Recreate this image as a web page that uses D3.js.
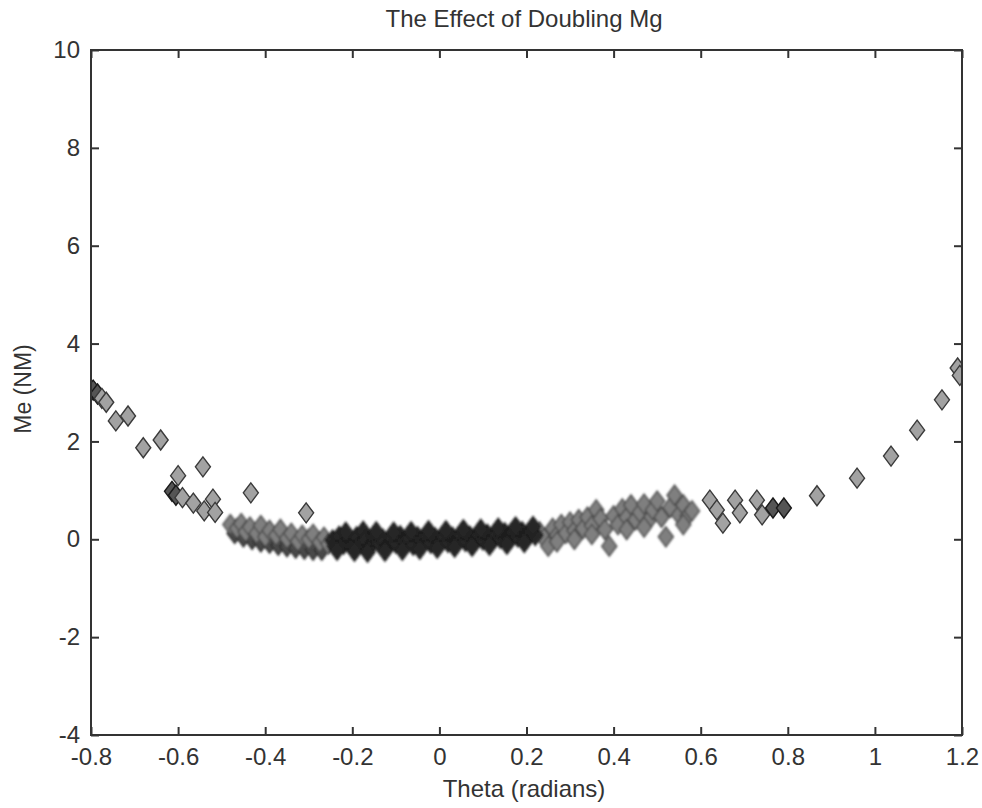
<!DOCTYPE html>
<html>
<head>
<meta charset="utf-8">
<script src="https://cdn.jsdelivr.net/npm/d3@7"></script>
<style>
  body { margin: 0; background: #fff; }
  svg { display: block; }
  text { font-family: "Liberation Sans", Arial, sans-serif; fill: #333; }
</style>
</head>
<body>
<svg></svg>
<script>
// isolated diamonds (theta, Me)
var outerTheta = [-0.795, -0.785, -0.775, -0.765, -0.743, -0.715, -0.680, -0.640, -0.600, -0.543,
  -0.614, -0.605, -0.590, -0.565, -0.540, -0.520, -0.515, -0.433, -0.306,
  0.621, 0.637, 0.651, 0.679, 0.690, 0.729, 0.741, 0.766, 0.791, 0.867, 0.959, 1.037, 1.097, 1.154, 1.190, 1.195];
var outerMe = [3.05, 2.97, 2.88, 2.80, 2.42, 2.52, 1.87, 2.03, 1.30, 1.48,
  0.98, 0.90, 0.85, 0.74, 0.58, 0.82, 0.55, 0.95, 0.54,
  0.80, 0.60, 0.33, 0.80, 0.54, 0.80, 0.50, 0.64, 0.64, 0.89, 1.25, 1.70, 2.23, 2.85, 3.50, 3.35];
var outerDark = [1, 1, 0, 0, 0, 0, 0, 0, 0, 0,
  1, 1, 0, 0, 0, 0, 0, 0, 0,
  0, 0, 0, 0, 0, 0, 0, 1, 1, 0, 0, 0, 0, 0, 0, 0];

// gray band either side of the core
var bandTheta = [-0.480, -0.465, -0.455, -0.445, -0.435, -0.420, -0.410, -0.400, -0.390, -0.375,
  -0.365, -0.350, -0.340, -0.325, -0.315, -0.300, -0.290, -0.275, -0.265, -0.255,
  0.23, 0.24, 0.25, 0.26, 0.27, 0.28, 0.29, 0.30, 0.31, 0.32, 0.33, 0.34, 0.35, 0.36, 0.37, 0.38,
  0.39, 0.40, 0.41, 0.42, 0.43, 0.44, 0.45, 0.46, 0.47, 0.48, 0.49, 0.50, 0.51, 0.52, 0.53, 0.54,
  0.55, 0.56, 0.57, 0.58,
  0.27, 0.31, 0.35, 0.43, 0.47, 0.56];
var bandMe = [0.30, 0.22, 0.32, 0.15, 0.25, 0.12, 0.28, 0.05, 0.18, 0.08,
  0.20, 0.02, 0.12, -0.04, 0.08, 0.00, 0.10, -0.06, 0.04, -0.10,
  0.15, 0.02, -0.14, 0.22, 0.08, 0.30, 0.12, 0.35, 0.18, 0.40, 0.22, 0.45, 0.28, 0.60, 0.42, 0.20,
  -0.14, 0.48, 0.30, 0.62, 0.45, 0.70, 0.40, 0.55, 0.72, 0.38, 0.60, 0.78, 0.45, 0.05, 0.65, 0.90,
  0.50, 0.70, 0.48, 0.58,
  -0.05, 0.00, 0.10, 0.20, 0.25, 0.30];

// darker lower edge of the left band
var shadeTheta = [-0.470, -0.450, -0.430, -0.410, -0.390, -0.370, -0.350, -0.330, -0.310, -0.290, -0.270];
var shadeMe = [0.12, 0.05, 0.00, -0.05, -0.08, -0.12, -0.15, -0.18, -0.20, -0.22, -0.22];

// dense dark core around zero
var coreTheta = [-0.245, -0.240, -0.230, -0.220, -0.210, -0.200, -0.190, -0.180, -0.175, -0.170, -0.160,
  -0.150, -0.140, -0.130, -0.120, -0.110, -0.100, -0.090, -0.080, -0.070, -0.060, -0.050, -0.040,
  -0.030, -0.020, -0.010, 0.000, 0.010, 0.020, 0.030, 0.040, 0.050, 0.060, 0.070, 0.080, 0.090,
  0.100, 0.110, 0.120, 0.130, 0.140, 0.150, 0.160, 0.170, 0.180, 0.190, 0.200, 0.210, 0.220,
  -0.235, -0.215, -0.195, -0.165, -0.145, -0.125, -0.105, -0.085, -0.065, -0.045, -0.025, -0.005,
  0.015, 0.035, 0.055, 0.075, 0.095, 0.115, 0.135, 0.155, 0.175, 0.195, 0.215];
var coreMe = [-0.02, -0.14, 0.06, -0.10, 0.02, -0.16, 0.05, -0.08, 0.16, -0.02, -0.15,
  0.06, -0.06, 0.00, -0.14, 0.04, -0.08, 0.07, -0.05, 0.02, -0.12, 0.05, -0.04,
  0.08, -0.08, 0.03, -0.05, 0.06, -0.06, 0.04, -0.03, 0.08, -0.04, 0.06, -0.02, 0.09,
  -0.01, 0.10, 0.00, 0.11, 0.02, 0.13, 0.04, 0.14, 0.05, 0.15, 0.06, 0.16, 0.08,
  -0.22, 0.14, -0.24, -0.26, 0.15, -0.24, 0.14, -0.22, 0.15, -0.20, 0.17, -0.18,
  0.17, -0.16, 0.19, -0.14, 0.20, -0.12, 0.22, -0.10, 0.25, -0.06, 0.26];

var xTicks = [-0.8, -0.6, -0.4, -0.2, 0, 0.2, 0.4, 0.6, 0.8, 1, 1.2];
var yTicks = [-4, -2, 0, 2, 4, 6, 8, 10];

var width = 982, height = 808;
var margin = {top: 50, right: 20, bottom: 73, left: 91};
var svg = d3.select("svg").attr("width", width).attr("height", height);

var x = d3.scaleLinear().domain([-0.8, 1.2]).range([margin.left, width - margin.right]);
var y = d3.scaleLinear().domain([-4, 10]).range([height - margin.bottom, margin.top]);

var defs = svg.append("defs");
defs.append("filter").attr("id", "soft")
  .append("feGaussianBlur").attr("stdDeviation", 1.1);
defs.append("clipPath").attr("id", "clip")
  .append("rect")
  .attr("x", margin.left).attr("y", margin.top)
  .attr("width", x.range()[1] - margin.left)
  .attr("height", y.range()[0] - margin.top);

var diamond = "M0,-10L7.5,0L0,10L-7.5,0Z";

function pts(xs, ys) {
  return xs.map(function (t, i) { return {t: t, m: ys[i], i: i}; });
}

var plot = svg.append("g").attr("clip-path", "url(#clip)");

function layer(xs, ys, fill, stroke, soft) {
  var g = plot.append("g");
  if (soft) g.attr("filter", "url(#soft)");
  g.selectAll("path").data(pts(xs, ys)).enter()
    .append("path")
    .attr("d", diamond)
    .attr("transform", function (d) { return "translate(" + x(d.t) + "," + y(d.m) + ")"; })
    .attr("fill", fill)
    .attr("stroke", stroke)
    .attr("stroke-width", 1.4);
  return g;
}

layer(shadeTheta, shadeMe, "#4a4a4a", "#2a2a2a", true);
layer(bandTheta, bandMe, "#7f7f7f", "#4a4a4a", true);
layer(coreTheta, coreMe, "#262626", "#1e1e1e", true);

layer(outerTheta, outerMe, "#a2a2a2", "#3a3a3a", false)
  .selectAll("path")
  .attr("fill", function (d) { return outerDark[d.i] ? "#555" : "#a2a2a2"; })
  .attr("stroke", function (d) { return outerDark[d.i] ? "#1a1a1a" : "#3a3a3a"; });

// axes: inward ticks on all four sides
var x0 = margin.left, x1 = x.range()[1], y0 = y.range()[0], y1 = margin.top;

var xb = svg.append("g").attr("transform", "translate(0," + y0 + ")")
  .call(d3.axisBottom(x).tickValues(xTicks).tickSize(-8).tickPadding(13)
    .tickFormat(function (d) { return String(d); }));
var xt = svg.append("g").attr("transform", "translate(0," + y1 + ")")
  .call(d3.axisTop(x).tickValues(xTicks).tickSize(-8).tickFormat(""));
var yl = svg.append("g").attr("transform", "translate(" + x0 + ",0)")
  .call(d3.axisLeft(y).tickValues(yTicks).tickSize(-8).tickPadding(11)
    .tickFormat(function (d) { return String(d); }));
var yr = svg.append("g").attr("transform", "translate(" + x1 + ",0)")
  .call(d3.axisRight(y).tickValues(yTicks).tickSize(-8).tickFormat(""));

[xb, xt, yl, yr].forEach(function (g) {
  g.select(".domain").remove();
  g.selectAll(".tick line").attr("stroke", "#333").attr("stroke-width", 2);
  g.selectAll(".tick text").attr("font-size", "24px").attr("fill", "#333")
    .style("font-family", "'Liberation Sans', Arial, sans-serif");
});

svg.append("rect")
  .attr("x", x0).attr("y", y1)
  .attr("width", x1 - x0).attr("height", y0 - y1)
  .attr("fill", "none").attr("stroke", "#333").attr("stroke-width", 2);

svg.append("text")
  .attr("x", 524).attr("y", 27)
  .attr("text-anchor", "middle")
  .attr("font-size", "24px")
  .text("The Effect of Doubling Mg");

svg.append("text")
  .attr("x", 524).attr("y", 797)
  .attr("text-anchor", "middle")
  .attr("font-size", "24px")
  .text("Theta (radians)");

svg.append("text")
  .attr("transform", "translate(31,389) rotate(-90)")
  .attr("text-anchor", "middle")
  .attr("font-size", "23px")
  .text("Me (NM)");
</script>
</body>
</html>
